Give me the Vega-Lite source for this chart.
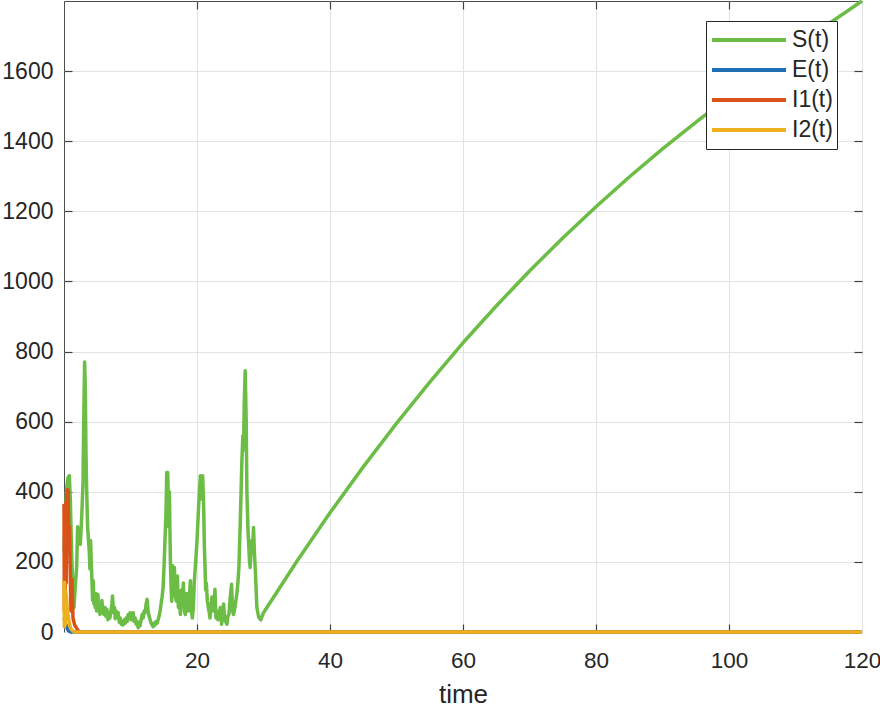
{
  "$schema": "https://vega.github.io/schema/vega-lite/v6.json",
  "width": 798,
  "height": 631,
  "autosize": {"type": "none"},
  "padding": {"left": 64, "top": 1, "right": 18, "bottom": 76},
  "background": "white",
  "config": {
    "view": {"stroke": "#4d4d4d", "strokeWidth": 1},
    "font": "Liberation Sans",
    "axis": {"labelFont": "Liberation Sans", "titleFont": "Liberation Sans", "labelColor": "#262626", "titleColor": "#262626", "domain": false, "titleFontWeight": "normal"},
    "legend": {"labelFont": "Liberation Sans"}
  },
  "data": {"values": [
    {"t": 0, "v": 230, "s": "S(t)"},
    {"t": 0.2, "v": 330, "s": "S(t)"},
    {"t": 0.4, "v": 410, "s": "S(t)"},
    {"t": 0.6, "v": 440, "s": "S(t)"},
    {"t": 0.8, "v": 446, "s": "S(t)"},
    {"t": 0.95, "v": 380, "s": "S(t)"},
    {"t": 1.15, "v": 222, "s": "S(t)"},
    {"t": 1.35, "v": 120, "s": "S(t)"},
    {"t": 1.5, "v": 70, "s": "S(t)"},
    {"t": 1.7, "v": 130, "s": "S(t)"},
    {"t": 1.9, "v": 184, "s": "S(t)"},
    {"t": 2.05, "v": 300, "s": "S(t)"},
    {"t": 2.16, "v": 260, "s": "S(t)"},
    {"t": 2.3, "v": 288, "s": "S(t)"},
    {"t": 2.45, "v": 250, "s": "S(t)"},
    {"t": 2.66, "v": 327, "s": "S(t)"},
    {"t": 2.85, "v": 420, "s": "S(t)"},
    {"t": 3.0, "v": 650, "s": "S(t)"},
    {"t": 3.1, "v": 770, "s": "S(t)"},
    {"t": 3.2, "v": 700, "s": "S(t)"},
    {"t": 3.3, "v": 520, "s": "S(t)"},
    {"t": 3.4, "v": 412, "s": "S(t)"},
    {"t": 3.55, "v": 300, "s": "S(t)"},
    {"t": 3.66, "v": 270, "s": "S(t)"},
    {"t": 3.8, "v": 230, "s": "S(t)"},
    {"t": 3.9, "v": 180, "s": "S(t)"},
    {"t": 4.0, "v": 260, "s": "S(t)"},
    {"t": 4.1, "v": 200, "s": "S(t)"},
    {"t": 4.2, "v": 150, "s": "S(t)"},
    {"t": 4.3, "v": 90, "s": "S(t)"},
    {"t": 4.4, "v": 146, "s": "S(t)"},
    {"t": 4.5, "v": 80, "s": "S(t)"},
    {"t": 4.6, "v": 100, "s": "S(t)"},
    {"t": 4.7, "v": 70, "s": "S(t)"},
    {"t": 4.8, "v": 110, "s": "S(t)"},
    {"t": 4.9, "v": 60, "s": "S(t)"},
    {"t": 5.0, "v": 75, "s": "S(t)"},
    {"t": 5.1, "v": 107, "s": "S(t)"},
    {"t": 5.2, "v": 60, "s": "S(t)"},
    {"t": 5.3, "v": 80, "s": "S(t)"},
    {"t": 5.4, "v": 50, "s": "S(t)"},
    {"t": 5.55, "v": 70, "s": "S(t)"},
    {"t": 5.7, "v": 90, "s": "S(t)"},
    {"t": 5.85, "v": 55, "s": "S(t)"},
    {"t": 6.0, "v": 50, "s": "S(t)"},
    {"t": 6.15, "v": 70, "s": "S(t)"},
    {"t": 6.3, "v": 45, "s": "S(t)"},
    {"t": 6.45, "v": 65, "s": "S(t)"},
    {"t": 6.6, "v": 35, "s": "S(t)"},
    {"t": 6.75, "v": 55, "s": "S(t)"},
    {"t": 6.9, "v": 40, "s": "S(t)"},
    {"t": 7.05, "v": 60, "s": "S(t)"},
    {"t": 7.2, "v": 80, "s": "S(t)"},
    {"t": 7.3, "v": 103, "s": "S(t)"},
    {"t": 7.45, "v": 55, "s": "S(t)"},
    {"t": 7.6, "v": 70, "s": "S(t)"},
    {"t": 7.7, "v": 38, "s": "S(t)"},
    {"t": 7.85, "v": 60, "s": "S(t)"},
    {"t": 8.0, "v": 45, "s": "S(t)"},
    {"t": 8.15, "v": 55, "s": "S(t)"},
    {"t": 8.3, "v": 28, "s": "S(t)"},
    {"t": 8.45, "v": 40, "s": "S(t)"},
    {"t": 8.6, "v": 22, "s": "S(t)"},
    {"t": 8.75, "v": 30, "s": "S(t)"},
    {"t": 8.9, "v": 20, "s": "S(t)"},
    {"t": 9.05, "v": 35, "s": "S(t)"},
    {"t": 9.2, "v": 25, "s": "S(t)"},
    {"t": 9.35, "v": 40, "s": "S(t)"},
    {"t": 9.5, "v": 30, "s": "S(t)"},
    {"t": 9.65, "v": 50, "s": "S(t)"},
    {"t": 9.8, "v": 38, "s": "S(t)"},
    {"t": 9.95, "v": 55, "s": "S(t)"},
    {"t": 10.1, "v": 35, "s": "S(t)"},
    {"t": 10.25, "v": 45, "s": "S(t)"},
    {"t": 10.4, "v": 55, "s": "S(t)"},
    {"t": 10.55, "v": 30, "s": "S(t)"},
    {"t": 10.7, "v": 40, "s": "S(t)"},
    {"t": 10.85, "v": 22, "s": "S(t)"},
    {"t": 11.0, "v": 30, "s": "S(t)"},
    {"t": 11.15, "v": 12, "s": "S(t)"},
    {"t": 11.3, "v": 25, "s": "S(t)"},
    {"t": 11.45, "v": 18, "s": "S(t)"},
    {"t": 11.6, "v": 35, "s": "S(t)"},
    {"t": 11.75, "v": 50, "s": "S(t)"},
    {"t": 11.9, "v": 40, "s": "S(t)"},
    {"t": 12.05, "v": 60, "s": "S(t)"},
    {"t": 12.2, "v": 55, "s": "S(t)"},
    {"t": 12.35, "v": 80, "s": "S(t)"},
    {"t": 12.5, "v": 93, "s": "S(t)"},
    {"t": 12.65, "v": 60, "s": "S(t)"},
    {"t": 12.8, "v": 45, "s": "S(t)"},
    {"t": 12.95, "v": 35, "s": "S(t)"},
    {"t": 13.1, "v": 25, "s": "S(t)"},
    {"t": 13.25, "v": 20, "s": "S(t)"},
    {"t": 13.4, "v": 15, "s": "S(t)"},
    {"t": 13.55, "v": 25, "s": "S(t)"},
    {"t": 13.7, "v": 20, "s": "S(t)"},
    {"t": 13.85, "v": 30, "s": "S(t)"},
    {"t": 14.0, "v": 25, "s": "S(t)"},
    {"t": 14.15, "v": 35, "s": "S(t)"},
    {"t": 14.3, "v": 45, "s": "S(t)"},
    {"t": 14.45, "v": 60, "s": "S(t)"},
    {"t": 14.6, "v": 80, "s": "S(t)"},
    {"t": 14.75, "v": 100, "s": "S(t)"},
    {"t": 14.9, "v": 126, "s": "S(t)"},
    {"t": 15.05, "v": 190, "s": "S(t)"},
    {"t": 15.2, "v": 270, "s": "S(t)"},
    {"t": 15.35, "v": 350, "s": "S(t)"},
    {"t": 15.45, "v": 455, "s": "S(t)"},
    {"t": 15.6, "v": 455, "s": "S(t)"},
    {"t": 15.75, "v": 300, "s": "S(t)"},
    {"t": 15.85, "v": 400, "s": "S(t)"},
    {"t": 16.0, "v": 200, "s": "S(t)"},
    {"t": 16.1, "v": 130, "s": "S(t)"},
    {"t": 16.2, "v": 88, "s": "S(t)"},
    {"t": 16.3, "v": 190, "s": "S(t)"},
    {"t": 16.45, "v": 120, "s": "S(t)"},
    {"t": 16.6, "v": 184, "s": "S(t)"},
    {"t": 16.75, "v": 100, "s": "S(t)"},
    {"t": 16.9, "v": 88, "s": "S(t)"},
    {"t": 17.05, "v": 160, "s": "S(t)"},
    {"t": 17.2, "v": 70, "s": "S(t)"},
    {"t": 17.35, "v": 100, "s": "S(t)"},
    {"t": 17.5, "v": 50, "s": "S(t)"},
    {"t": 17.65, "v": 120, "s": "S(t)"},
    {"t": 17.8, "v": 80, "s": "S(t)"},
    {"t": 17.95, "v": 140, "s": "S(t)"},
    {"t": 18.1, "v": 60, "s": "S(t)"},
    {"t": 18.25, "v": 50, "s": "S(t)"},
    {"t": 18.4, "v": 110, "s": "S(t)"},
    {"t": 18.55, "v": 70, "s": "S(t)"},
    {"t": 18.7, "v": 60, "s": "S(t)"},
    {"t": 18.85, "v": 100, "s": "S(t)"},
    {"t": 19.0, "v": 146, "s": "S(t)"},
    {"t": 19.15, "v": 60, "s": "S(t)"},
    {"t": 19.3, "v": 40, "s": "S(t)"},
    {"t": 19.45, "v": 70, "s": "S(t)"},
    {"t": 19.6, "v": 146, "s": "S(t)"},
    {"t": 19.8, "v": 200, "s": "S(t)"},
    {"t": 20.0, "v": 260, "s": "S(t)"},
    {"t": 20.25, "v": 360, "s": "S(t)"},
    {"t": 20.5, "v": 446, "s": "S(t)"},
    {"t": 20.65, "v": 380, "s": "S(t)"},
    {"t": 20.85, "v": 446, "s": "S(t)"},
    {"t": 21.0, "v": 360, "s": "S(t)"},
    {"t": 21.1, "v": 250, "s": "S(t)"},
    {"t": 21.2, "v": 190, "s": "S(t)"},
    {"t": 21.3, "v": 120, "s": "S(t)"},
    {"t": 21.4, "v": 140, "s": "S(t)"},
    {"t": 21.55, "v": 90, "s": "S(t)"},
    {"t": 21.7, "v": 70, "s": "S(t)"},
    {"t": 21.85, "v": 55, "s": "S(t)"},
    {"t": 21.95, "v": 40, "s": "S(t)"},
    {"t": 22.1, "v": 70, "s": "S(t)"},
    {"t": 22.25, "v": 100, "s": "S(t)"},
    {"t": 22.4, "v": 60, "s": "S(t)"},
    {"t": 22.55, "v": 80, "s": "S(t)"},
    {"t": 22.7, "v": 122, "s": "S(t)"},
    {"t": 22.85, "v": 40, "s": "S(t)"},
    {"t": 23.0, "v": 60, "s": "S(t)"},
    {"t": 23.15, "v": 35, "s": "S(t)"},
    {"t": 23.3, "v": 50, "s": "S(t)"},
    {"t": 23.5, "v": 70, "s": "S(t)"},
    {"t": 23.7, "v": 22, "s": "S(t)"},
    {"t": 23.85, "v": 50, "s": "S(t)"},
    {"t": 24.0, "v": 80, "s": "S(t)"},
    {"t": 24.15, "v": 40, "s": "S(t)"},
    {"t": 24.3, "v": 30, "s": "S(t)"},
    {"t": 24.5, "v": 22, "s": "S(t)"},
    {"t": 24.65, "v": 45, "s": "S(t)"},
    {"t": 24.8, "v": 50, "s": "S(t)"},
    {"t": 25.0, "v": 100, "s": "S(t)"},
    {"t": 25.2, "v": 136, "s": "S(t)"},
    {"t": 25.35, "v": 60, "s": "S(t)"},
    {"t": 25.5, "v": 50, "s": "S(t)"},
    {"t": 25.7, "v": 70, "s": "S(t)"},
    {"t": 25.85, "v": 90, "s": "S(t)"},
    {"t": 26.0, "v": 110, "s": "S(t)"},
    {"t": 26.15, "v": 140, "s": "S(t)"},
    {"t": 26.3, "v": 184, "s": "S(t)"},
    {"t": 26.5, "v": 307, "s": "S(t)"},
    {"t": 26.75, "v": 488, "s": "S(t)"},
    {"t": 26.9, "v": 560, "s": "S(t)"},
    {"t": 27.0, "v": 520, "s": "S(t)"},
    {"t": 27.1, "v": 650, "s": "S(t)"},
    {"t": 27.25, "v": 745, "s": "S(t)"},
    {"t": 27.4, "v": 600, "s": "S(t)"},
    {"t": 27.5, "v": 403, "s": "S(t)"},
    {"t": 27.65, "v": 300, "s": "S(t)"},
    {"t": 27.75, "v": 260, "s": "S(t)"},
    {"t": 27.9, "v": 200, "s": "S(t)"},
    {"t": 28.0, "v": 184, "s": "S(t)"},
    {"t": 28.2, "v": 260, "s": "S(t)"},
    {"t": 28.35, "v": 230, "s": "S(t)"},
    {"t": 28.5, "v": 298, "s": "S(t)"},
    {"t": 28.65, "v": 220, "s": "S(t)"},
    {"t": 28.8, "v": 165, "s": "S(t)"},
    {"t": 29.0, "v": 70, "s": "S(t)"},
    {"t": 29.15, "v": 55, "s": "S(t)"},
    {"t": 29.3, "v": 41, "s": "S(t)"},
    {"t": 29.6, "v": 35, "s": "S(t)"},
    {"t": 30.0, "v": 55, "s": "S(t)"},
    {"t": 35, "v": 201, "s": "S(t)"},
    {"t": 40, "v": 340, "s": "S(t)"},
    {"t": 45, "v": 471, "s": "S(t)"},
    {"t": 50, "v": 595, "s": "S(t)"},
    {"t": 55, "v": 713, "s": "S(t)"},
    {"t": 60, "v": 825, "s": "S(t)"},
    {"t": 65, "v": 930, "s": "S(t)"},
    {"t": 70, "v": 1030, "s": "S(t)"},
    {"t": 75, "v": 1124, "s": "S(t)"},
    {"t": 80, "v": 1213, "s": "S(t)"},
    {"t": 85, "v": 1298, "s": "S(t)"},
    {"t": 90, "v": 1378, "s": "S(t)"},
    {"t": 95, "v": 1454, "s": "S(t)"},
    {"t": 100, "v": 1528, "s": "S(t)"},
    {"t": 105, "v": 1599, "s": "S(t)"},
    {"t": 110, "v": 1668, "s": "S(t)"},
    {"t": 115, "v": 1735, "s": "S(t)"},
    {"t": 120, "v": 1800, "s": "S(t)"},
    {"t": 0, "v": 40, "s": "E(t)"},
    {"t": 0.3, "v": 20, "s": "E(t)"},
    {"t": 0.6, "v": 5, "s": "E(t)"},
    {"t": 1.0, "v": 0, "s": "E(t)"},
    {"t": 120, "v": 0, "s": "E(t)"},
    {"t": 0, "v": 365, "s": "I1(t)"},
    {"t": 0.05, "v": 60, "s": "I1(t)"},
    {"t": 0.1, "v": 362, "s": "I1(t)"},
    {"t": 0.18, "v": 90, "s": "I1(t)"},
    {"t": 0.26, "v": 368, "s": "I1(t)"},
    {"t": 0.33, "v": 140, "s": "I1(t)"},
    {"t": 0.4, "v": 370, "s": "I1(t)"},
    {"t": 0.5, "v": 406, "s": "I1(t)"},
    {"t": 0.62, "v": 404, "s": "I1(t)"},
    {"t": 0.72, "v": 250, "s": "I1(t)"},
    {"t": 0.82, "v": 300, "s": "I1(t)"},
    {"t": 0.95, "v": 160, "s": "I1(t)"},
    {"t": 1.05, "v": 60, "s": "I1(t)"},
    {"t": 1.2, "v": 150, "s": "I1(t)"},
    {"t": 1.35, "v": 40, "s": "I1(t)"},
    {"t": 1.6, "v": 20, "s": "I1(t)"},
    {"t": 2.0, "v": 8, "s": "I1(t)"},
    {"t": 2.3, "v": 0, "s": "I1(t)"},
    {"t": 120, "v": 0, "s": "I1(t)"},
    {"t": 0, "v": 146, "s": "I2(t)"},
    {"t": 0.05, "v": 15, "s": "I2(t)"},
    {"t": 0.1, "v": 140, "s": "I2(t)"},
    {"t": 0.18, "v": 20, "s": "I2(t)"},
    {"t": 0.26, "v": 115, "s": "I2(t)"},
    {"t": 0.4, "v": 95, "s": "I2(t)"},
    {"t": 0.5, "v": 60, "s": "I2(t)"},
    {"t": 0.6, "v": 50, "s": "I2(t)"},
    {"t": 0.8, "v": 25, "s": "I2(t)"},
    {"t": 1.0, "v": 10, "s": "I2(t)"},
    {"t": 1.3, "v": 3, "s": "I2(t)"},
    {"t": 1.6, "v": 0, "s": "I2(t)"},
    {"t": 120, "v": 0, "s": "I2(t)"}
  ]},
  "resolve": {"axis": {"x": "independent", "y": "independent"}},
  "layer": [
    {
      "mark": {"type": "line", "strokeWidth": 3.5, "clip": false, "strokeJoin": "round"},
      "encoding": {
        "x": {"field": "t", "type": "quantitative",
              "scale": {"domain": [0, 120], "nice": false, "zero": false},
              "axis": {"orient": "bottom", "values": [20, 40, 60, 80, 100, 120], "ticks": false, "labelFontSize": 22.5, "labelDx": -1.5, "labelPadding": 35, "labelBaseline": "alphabetic", "labelFlush": false, "labelOverlap": false, "title": "time", "titleFontSize": 26, "titleBaseline": "alphabetic", "titleY": 70, "gridColor": "#e3e3e3", "gridWidth": 1}},
        "y": {"field": "v", "type": "quantitative",
              "scale": {"domain": [0, 1800], "nice": false},
              "axis": {"orient": "left", "values": [0, 200, 400, 600, 800, 1000, 1200, 1400, 1600], "format": "d", "ticks": false, "labelFontSize": 23, "labelPadding": 11, "labelFlush": false, "labelOverlap": false, "title": null, "gridColor": "#e3e3e3", "gridWidth": 1}},
        "color": {"field": "s", "type": "nominal",
                  "scale": {"domain": ["S(t)", "E(t)", "I1(t)", "I2(t)"], "range": ["#6BBD45", "#1F6FB5", "#D95319", "#EDB120"]},
                  "legend": {"orient": "none", "legendX": 642, "legendY": 20, "title": null, "symbolType": "stroke", "symbolSize": 5476, "symbolStrokeWidth": 4, "clipHeight": 30, "labelFontSize": 23, "labelColor": "#262626", "labelOffset": 4, "padding": 4, "fillColor": "white", "strokeColor": "#262626", "rowPadding": 0}}
      }
    },
    {
      "mark": {"type": "line", "strokeOpacity": 0},
      "encoding": {
        "x": {"field": "t", "type": "quantitative", "axis": {"orient": "top", "values": [20, 40, 60, 80, 100], "labels": false, "grid": false, "tickSize": -8, "tickWidth": 1.2, "tickColor": "#404040", "title": null}},
        "y": {"field": "v", "type": "quantitative", "axis": {"orient": "right", "values": [200, 400, 600, 800, 1000, 1200, 1400, 1600], "labels": false, "grid": false, "tickSize": -8, "tickWidth": 1.2, "tickColor": "#404040", "title": null}}
      }
    },
    {
      "mark": {"type": "line", "strokeOpacity": 0},
      "encoding": {
        "x": {"field": "t", "type": "quantitative", "axis": {"orient": "bottom", "values": [20, 40, 60, 80, 100], "labels": false, "grid": false, "tickSize": -8, "tickWidth": 1.2, "tickColor": "#404040", "title": null}},
        "y": {"field": "v", "type": "quantitative", "axis": {"orient": "left", "values": [200, 400, 600, 800, 1000, 1200, 1400, 1600], "labels": false, "grid": false, "tickSize": -8, "tickWidth": 1.2, "tickColor": "#404040", "title": null}}
      }
    }
  ]
}
